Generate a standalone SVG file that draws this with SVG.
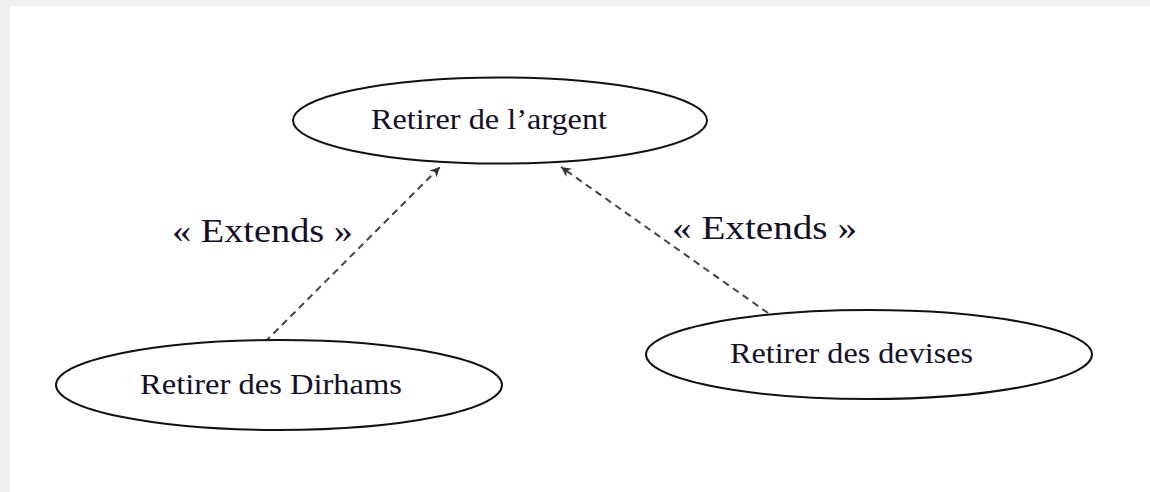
<svg xmlns="http://www.w3.org/2000/svg" width="1150" height="492" viewBox="0 0 1150 492">
<style>
.uc{fill:#fff;stroke:#111;stroke-width:2}
.lbl{font-family:"Liberation Serif","Times New Roman",serif;fill:#14102a}
.nl{font-size:29px}
.st{font-size:34px}
.dep{fill:none;stroke:#444;stroke-width:2;stroke-dasharray:7 5}
</style>
<defs>
<marker id="ah" viewBox="0 0 10 10" refX="10" refY="5" markerWidth="10" markerHeight="10" markerUnits="userSpaceOnUse" orient="auto">
<path d="M0,0 L10,5 L0,10 L3,5 Z" fill="#333"/>
</marker>
</defs>
<rect x="0" y="0" width="1150" height="492" fill="#f0f0f0"/>
<rect x="10" y="6" width="1140" height="486" fill="#fff"/>
<g id="connectors">
<line class="dep" x1="265" y1="342" x2="440" y2="167" marker-end="url(#ah)"/>
<line class="dep" x1="768" y1="313" x2="561" y2="167" marker-end="url(#ah)"/>
<text class="lbl st" x="172" y="242" textLength="181" lengthAdjust="spacingAndGlyphs">« Extends »</text>
<text class="lbl st" x="672" y="239" textLength="185" lengthAdjust="spacingAndGlyphs">« Extends »</text>
</g>
<g id="retirer-argent">
<ellipse class="uc" cx="500" cy="120.5" rx="207" ry="43"/>
<text class="lbl nl" x="371" y="129" textLength="236" lengthAdjust="spacingAndGlyphs">Retirer de l’argent</text>
</g>
<g id="retirer-dirhams">
<ellipse class="uc" cx="279" cy="385" rx="223" ry="45"/>
<text class="lbl nl" x="140" y="394" textLength="262" lengthAdjust="spacingAndGlyphs">Retirer des Dirhams</text>
</g>
<g id="retirer-devises">
<ellipse class="uc" cx="869" cy="354.5" rx="223" ry="44.5"/>
<text class="lbl nl" x="730" y="363" textLength="243" lengthAdjust="spacingAndGlyphs">Retirer des devises</text>
</g>
</svg>
